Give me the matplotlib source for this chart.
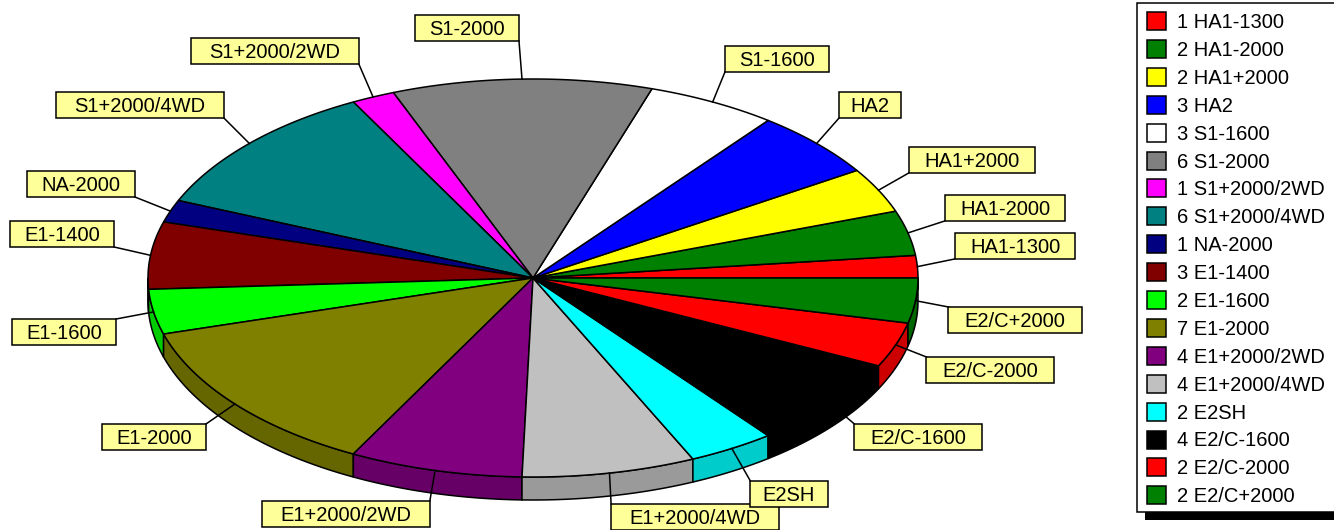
import numpy as np
import matplotlib
matplotlib.use('Agg')
import matplotlib.pyplot as plt
from matplotlib.patches import Polygon, Rectangle
from matplotlib.colors import to_rgb

names = ["HA1-1300", "HA1-2000", "HA1+2000", "HA2", "S1-1600", "S1-2000",
         "S1+2000/2WD", "S1+2000/4WD", "NA-2000", "E1-1400", "E1-1600",
         "E1-2000", "E1+2000/2WD", "E1+2000/4WD", "E2SH", "E2/C-1600",
         "E2/C-2000", "E2/C+2000"]
values = [1, 2, 2, 3, 3, 6, 1, 6, 1, 3, 2, 7, 4, 4, 2, 4, 2, 2]
colors = ["#FF0000", "#008000", "#FFFF00", "#0000FF", "#FFFFFF", "#808080",
          "#FF00FF", "#008080", "#000080", "#800000", "#00FF00", "#808000",
          "#800080", "#C0C0C0", "#00FFFF", "#000000", "#FF0000", "#008000"]

# label box centres (layout, pixels)
label_xy = [(1015, 246), (1005, 208), (972, 160), (870, 105), (777, 59),
            (467, 28), (275, 51), (140, 105), (81, 184), (62, 234),
            (64, 332), (154, 437), (346, 514), (695, 517), (789, 494),
            (918, 437), (990, 370), (1015, 320)]

W, H = 1334, 530
fig = plt.figure(figsize=(W / 100, H / 100), dpi=100)
ax = fig.add_axes([0, 0, 1, 1])
ax.set_xlim(0, W)
ax.set_ylim(H, 0)
ax.axis('off')

FONT = 'Liberation Sans'
FS = 14.5
cx, cy, rx, ry, depth = 533, 278, 385, 199, 23
lw = 1.1


def pt(t, dy=0.0):
    r = np.radians(t)
    return (cx + rx * np.cos(r), cy - ry * np.sin(r) + dy)


total = sum(values)
bounds = np.concatenate([[0], np.cumsum(values)]) / total * 360.0

# side walls (front half)
for i, (a1, a2) in enumerate(zip(bounds[:-1], bounds[1:])):
    s, e = max(a1, 180.0), min(a2, 360.0)
    if e > s:
        t = np.linspace(s, e, max(2, int((e - s) * 2)))
        top = [pt(x) for x in t]
        bot = [pt(x, depth) for x in t[::-1]]
        c = np.clip(np.array(to_rgb(colors[i])) * 0.8, 0, 1)
        ax.add_patch(Polygon(top + bot, closed=True, fc=c, ec='black',
                             lw=lw, zorder=1))

# top faces
for i, (a1, a2) in enumerate(zip(bounds[:-1], bounds[1:])):
    t = np.linspace(a1, a2, max(2, int((a2 - a1) * 2)))
    poly = [(cx, cy)] + [pt(x) for x in t]
    ax.add_patch(Polygon(poly, closed=True, fc=colors[i], ec='black',
                         lw=lw, zorder=2))

# labels
texts = []
for i, name in enumerate(names):
    x, y = label_xy[i]
    tx = ax.text(x, y + 7, name, ha='center', va='baseline', fontsize=FS,
                 family=FONT, zorder=6)
    texts.append(tx)

fig.canvas.draw()
renderer = fig.canvas.get_renderer()
inv = ax.transData.inverted()
for i, tx in enumerate(texts):
    bb = tx.get_window_extent(renderer)
    (x0, _), (x1, _) = inv.transform([(bb.x0, bb.y0), (bb.x1, bb.y1)])
    tw = abs(x1 - x0)
    bw = tw * 1.15 + 17
    bh = 26
    x, y = label_xy[i]
    rx0, ry0 = x - bw / 2, y - bh / 2
    ax.add_patch(Rectangle((rx0, ry0), bw, bh, fc='#FFFF99', ec='black',
                           lw=lw, zorder=5))
    mid = (bounds[i] + bounds[i + 1]) / 2
    px, py = pt(mid)
    qx = min(max(px, rx0), rx0 + bw)
    qy = min(max(py, ry0), ry0 + bh)
    ax.plot([px, qx], [py, qy], color='black', lw=lw, zorder=4)

# legend
ax.add_patch(Rectangle((1145, 512), 200, 8, fc='black', ec='none', zorder=3))
ax.add_patch(Rectangle((1137, 3), 210, 509, fc='white', ec='black', lw=lw,
                       zorder=4))
y0, dy = 21, 27.9
for i, name in enumerate(names):
    yc = y0 + i * dy
    ax.add_patch(Rectangle((1147, yc - 9), 19, 18, fc=colors[i], ec='black',
                           lw=lw, zorder=5))
    ax.text(1177, yc + 7, f"{values[i]} {name}", ha='left', va='baseline',
            fontsize=FS, family=FONT, zorder=6)

fig.savefig('out.png', dpi=100)
